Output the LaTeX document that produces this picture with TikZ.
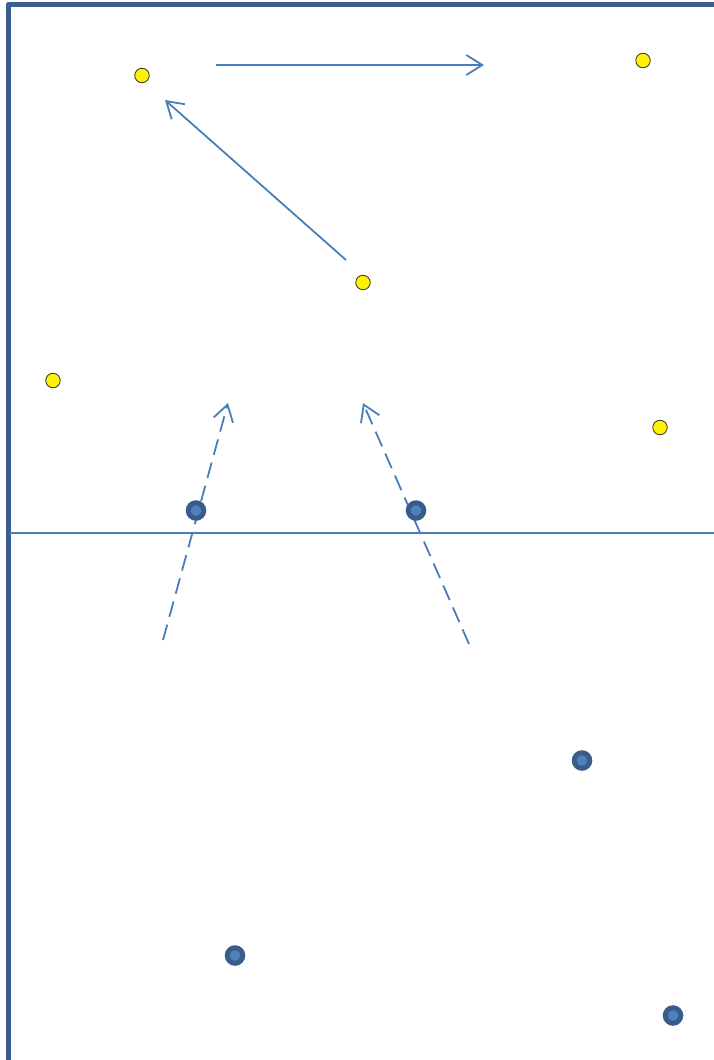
\documentclass[tikz,border=0pt]{standalone}
\usepackage{xcolor}
\usepackage{tikz}
\usetikzlibrary{arrows.meta}

\definecolor{frameblue}{HTML}{3A5F8E}
\definecolor{lineblue}{HTML}{4A7EBB}
\definecolor{dotring}{HTML}{385D8A}
\definecolor{dotfill}{HTML}{4F81BD}

\begin{document}
\begin{tikzpicture}[
  x=1pt, y=-1pt,
  yellowdot/.style={circle, draw=black!80, fill=yellow, line width=0.8pt,
                    minimum size=14.5pt, inner sep=0pt},
  bluedot/.style={circle, draw=dotring, fill=dotfill, line width=5pt,
                  minimum size=15.5pt, inner sep=0pt},
  arrow/.style={-{Straight Barb[length=16pt,width=20pt,line width=1.8pt]},
                draw=lineblue, line width=1.8pt},
  dasharrow/.style={arrow, dash pattern=on 16pt off 8pt}
]
\useasboundingbox (0,0) rectangle (714,1060);

% frame and half line
\draw[frameblue, line width=5pt, line join=round] (8.5,1060) -- (8.5,4) -- (714,4);
\coordinate (hl) at (10,533);
\coordinate (hr) at (714,533);
\draw[lineblue, line width=1.8pt] (hl) -- (hr);

% yellow players
\node[yellowdot] (y1) at (142,75.5) {};
\node[yellowdot] (y2) at (643,60.5) {};
\node[yellowdot] (y3) at (363,282.5) {};
\node[yellowdot] (y4) at (53,380.5) {};
\node[yellowdot] (y5) at (660,427.5) {};

% moves
\coordinate (m1s) at (216,65);
\coordinate (m1e) at (484,65);
\coordinate (m2s) at (346,260);
\coordinate (m2e) at (165,100);
\coordinate (m3s) at (163,640);
\coordinate (m3e) at (228,403);
\coordinate (m4s) at (469,644);
\coordinate (m4e) at (363,403);

\draw[arrow] (m1s) -- (m1e);
\draw[arrow] (m2s) -- (m2e);
\draw[dasharrow] (m3s) -- (m3e);
\draw[dasharrow] (m4s) -- (m4e);

% blue players
\node[bluedot] (b1) at (196,510.5) {};
\node[bluedot] (b2) at (416,510.5) {};
\node[bluedot] (b3) at (582,760.5) {};
\node[bluedot] (b4) at (235,955.5) {};
\node[bluedot] (b5) at (673,1015.5) {};
\end{tikzpicture}
\end{document}
